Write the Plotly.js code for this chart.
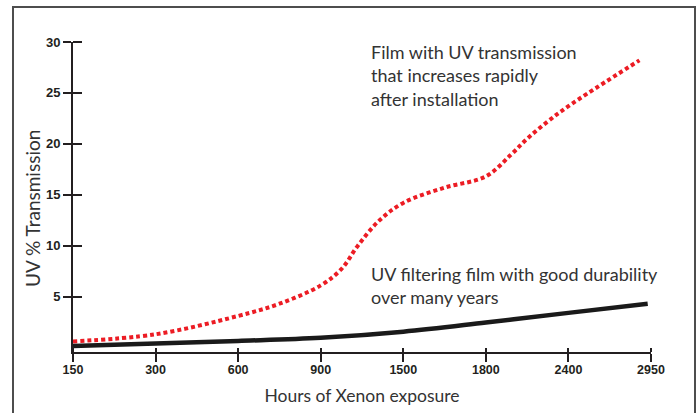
<!DOCTYPE html>
<html>
<head>
<meta charset="utf-8">
<script src="https://cdn.plot.ly/plotly-3.0.1.min.js"></script>
<style>
  html, body { margin: 0; padding: 0; background: #ffffff; }
  #frame { position: absolute; left: 12px; top: 6px; width: 680px; height: 420px;
           border-left: 2px solid #4d4d4d; border-top: 2px solid #4d4d4d; border-right: 2px solid #4d4d4d; z-index: 0; }
  #chart { position: absolute; left: 0; top: 0; width: 699px; height: 413px; z-index: 1; }
</style>
</head>
<body>
<div id="frame"></div>
<div id="chart"></div>
<script>
// Category labels of the x axis (hours of Xenon exposure), evenly spaced
const categories = ['150', '300', '600', '900', '1500', '1800', '2400', '2950'];
const categoryPos = [0, 1, 2, 3, 4, 5, 6, 7];

// Film with rapidly increasing UV transmission (red dotted)
const redX = [0, 1, 2, 2.5, 3, 3.25, 3.45, 3.7, 4, 4.5, 5, 5.3, 5.5, 5.75, 6, 6.86];
const redY = [0.6, 1.3, 3.1, 4.3, 6.1, 7.7, 10.0, 12.4, 14.2, 15.7, 16.8, 18.9, 20.5, 22.2, 23.7, 28.2];

// UV filtering film with good durability (black solid)
const blackX = [0, 1, 2, 3, 4, 5, 6, 6.96];
const blackY = [0.15, 0.4, 0.65, 0.95, 1.55, 2.45, 3.4, 4.3];

// Y ticks
const yTicks = [5, 10, 15, 20, 25, 30];

const annotRed = 'Film with UV transmission<br>that increases rapidly<br>after installation';
const annotBlack = 'UV filtering film with good durability<br>over many years';
const xTitle = 'Hours of Xenon exposure';
const yTitle = 'UV % Transmission';

const ink = '#231f20';
const textFont = { family: 'Lato, "Open Sans", sans-serif', size: 18, color: '#333333' };
const titleFont = { family: 'Lato, "Open Sans", sans-serif', size: 17.5, color: '#333333' };
const yTitleFont = { family: 'Lato, "Open Sans", sans-serif', size: 19, color: '#333333' };

// inner halves of the cross-shaped ticks: minor ticks nudged by a hair so they are not merged with the major ones
const EPS = 1e-7;
const xInner = categoryPos.map(v => (v === categoryPos[categoryPos.length - 1] ? v - EPS : v + EPS));
const yInner = yTicks.map(v => v - EPS);

const traces = [
  { x: redX, y: redY, type: 'scatter', mode: 'lines',
    line: { color: '#ec1c24', width: 4, dash: '4px,3px', shape: 'spline', smoothing: 1 },
    hoverinfo: 'skip', showlegend: false },
  { x: blackX, y: blackY, type: 'scatter', mode: 'lines',
    line: { color: '#1a1a1a', width: 4.5, shape: 'spline', smoothing: 1 },
    hoverinfo: 'skip', showlegend: false }
];

const xr = [0, 7];
const yr = [-0.44, 30];

const layout = {
  width: 699, height: 413,
  margin: { l: 73, r: 48, t: 42, b: 61 },
  paper_bgcolor: 'rgba(0,0,0,0)', plot_bgcolor: 'rgba(0,0,0,0)',
  showlegend: false,
  xaxis: {
    range: xr, tickmode: 'array', tickvals: categoryPos, ticktext: categories,
    showgrid: false, zeroline: false, showline: true, linecolor: ink, linewidth: 2,
    ticks: 'outside', ticklen: 8, tickwidth: 2, tickcolor: ink, ticklabelstandoff: -3,
    minor: { ticks: 'inside', tickmode: 'array', tickvals: xInner, ticklen: 4, tickwidth: 2, tickcolor: ink, showgrid: false },
    tickfont: { family: '"Liberation Sans", Arial, sans-serif', size: 12.5, color: ink, weight: 'bold' },
    title: { text: xTitle, font: titleFont, standoff: 14 },
    fixedrange: true
  },
  yaxis: {
    range: yr, tickmode: 'array', tickvals: yTicks,
    showgrid: false, zeroline: false, showline: true, linecolor: ink, linewidth: 2,
    ticks: 'outside', ticklen: 8, tickwidth: 2, tickcolor: ink,
    minor: { ticks: 'inside', tickmode: 'array', tickvals: yInner, ticklen: 9, tickwidth: 2, tickcolor: ink, showgrid: false },
    tickfont: { family: '"Liberation Sans", Arial, sans-serif', size: 13, color: ink, weight: 'bold' },
    fixedrange: true
  },
  annotations: [
    { x: 3.6, y: 30, xref: 'x', yref: 'y', xanchor: 'left', yanchor: 'top', align: 'left', yshift: 2,
      text: annotRed, showarrow: false, font: textFont, borderpad: 0 },
    { x: 3.6, y: 8.4, xref: 'x', yref: 'y', xanchor: 'left', yanchor: 'top', align: 'left',
      text: annotBlack, showarrow: false, font: textFont, borderpad: 0 },
    // y-axis title (placed as rotated text to match the reference's offset)
    { x: -0.071, y: 13.7, xref: 'paper', yref: 'y', xanchor: 'center', yanchor: 'middle', textangle: -90,
      text: yTitle, showarrow: false, font: yTitleFont, borderpad: 0 }
  ]
};

Plotly.newPlot('chart', traces, layout, { displayModeBar: false, staticPlot: true });
</script>
</body>
</html>
